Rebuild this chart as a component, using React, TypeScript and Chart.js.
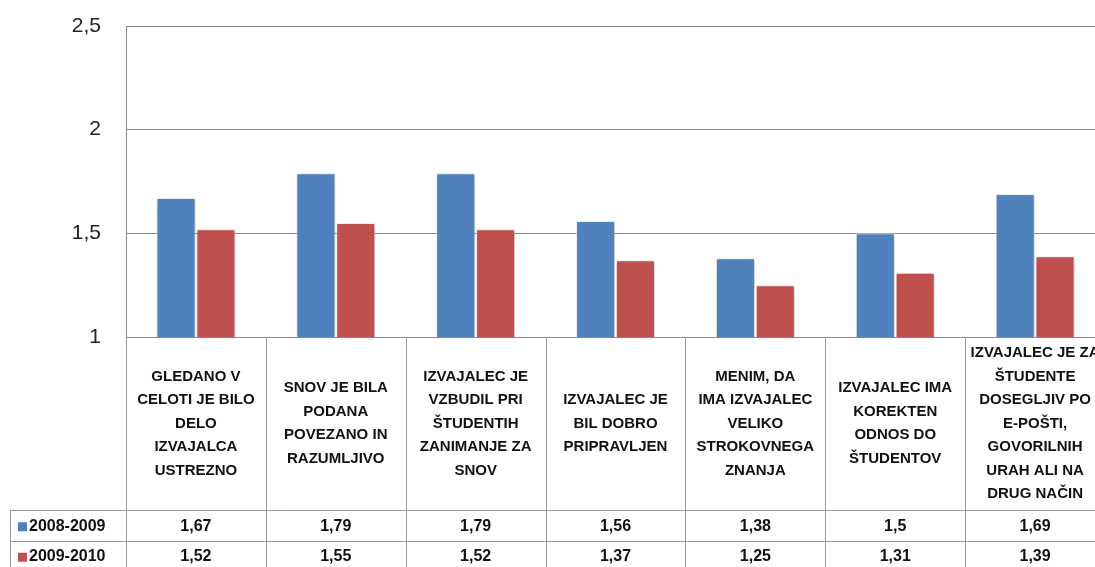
import React, { useEffect, useRef } from "react";
import { Chart, registerables } from "chart.js";

Chart.register(...registerables);

const categories: string[][] = [
  ["GLEDANO V", "CELOTI JE BILO", "DELO", "IZVAJALCA", "USTREZNO"],
  ["SNOV JE BILA", "PODANA", "POVEZANO IN", "RAZUMLJIVO"],
  ["IZVAJALEC JE", "VZBUDIL PRI", "ŠTUDENTIH", "ZANIMANJE ZA", "SNOV"],
  ["IZVAJALEC JE", "BIL DOBRO", "PRIPRAVLJEN"],
  ["MENIM, DA", "IMA IZVAJALEC", "VELIKO", "STROKOVNEGA", "ZNANJA"],
  ["IZVAJALEC IMA", "KOREKTEN", "ODNOS DO", "ŠTUDENTOV"],
  ["IZVAJALEC JE ZA", "ŠTUDENTE", "DOSEGLJIV PO", "E-POŠTI,", "GOVORILNIH", "URAH ALI NA", "DRUG NAČIN"],
];

const seriesNames = ["2008-2009", "2009-2010"];
const values2008 = [1.67, 1.79, 1.79, 1.56, 1.38, 1.5, 1.69];
const values2009 = [1.52, 1.55, 1.52, 1.37, 1.25, 1.31, 1.39];
const yTicks = [1, 1.5, 2, 2.5];

const COLORS = ["#4F81BD", "#C0504D"];
const GRID = "#8a8a8a";
const TABLE_LINE = "#9a9a9a";

const fmt = (v: number) => String(v).replace(".", ",");

const shadowPlugin = {
  id: "barShadow",
  beforeDatasetsDraw(chart: any) {
    const ctx = chart.ctx;
    ctx.save();
    ctx.shadowColor = "rgba(0,0,0,0.28)";
    ctx.shadowBlur = 4;
    ctx.shadowOffsetX = 1;
    ctx.shadowOffsetY = 1;
  },
  afterDatasetsDraw(chart: any) {
    chart.ctx.restore();
  },
};

const tablePlugin = {
  id: "dataTable",
  afterDraw(chart: any) {
    const { ctx, chartArea } = chart;
    const xs = chart.scales.x;
    const n = categories.length;
    const colW = (chartArea.right - chartArea.left) / n;
    const top = chartArea.bottom;
    const labelH = 173;
    const rowH = 30.5;
    const r1 = top + labelH;
    const r2 = r1 + rowH;
    const r3 = r2 + rowH;
    const legendLeft = 10;
    const bottom = chart.height + 5;

    ctx.save();
    ctx.strokeStyle = TABLE_LINE;
    ctx.lineWidth = 1;
    ctx.beginPath();
    for (let i = 0; i <= n; i++) {
      const x = Math.round(chartArea.left + i * colW) + 0.5;
      ctx.moveTo(x, top);
      ctx.lineTo(x, bottom);
    }
    ctx.moveTo(legendLeft + 0.5, r1);
    ctx.lineTo(legendLeft + 0.5, bottom);
    [r1, r2, r3].forEach((y) => {
      const yy = Math.round(y) + 0.5;
      ctx.moveTo(legendLeft, yy);
      ctx.lineTo(chartArea.right, yy);
    });
    ctx.stroke();

    ctx.fillStyle = "#111";
    ctx.textAlign = "center";
    ctx.textBaseline = "middle";
    ctx.font = 'bold 15px "Liberation Sans"';
    const lineH = 23.5;
    const midY = (top + r1) / 2;
    categories.forEach((lines, i) => {
      const cx = xs.getPixelForValue(i);
      const startY = midY - ((lines.length - 1) * lineH) / 2;
      lines.forEach((ln, j) => ctx.fillText(ln, cx, startY + j * lineH));
    });

    ctx.font = 'bold 16px "Liberation Sans"';
    const rows = [values2008, values2009];
    rows.forEach((vals, r) => {
      const cy = r1 + rowH * r + rowH / 2 + 1;
      ctx.fillStyle = "#111";
      vals.forEach((v, i) => {
        ctx.fillText(fmt(v), xs.getPixelForValue(i), cy);
      });
      ctx.fillStyle = COLORS[r];
      ctx.fillRect(legendLeft + 8, cy - 4, 9, 9);
      ctx.fillStyle = "#111";
      ctx.textAlign = "left";
      ctx.fillText(seriesNames[r], legendLeft + 19, cy);
      ctx.textAlign = "center";
    });
    ctx.restore();
  },
};

export default function App() {
  const ref = useRef<HTMLCanvasElement | null>(null);

  useEffect(() => {
    if (!ref.current) return;
    const chart = new Chart(ref.current, {
      type: "bar",
      data: {
        labels: categories.map((c) => c.join(" ")),
        datasets: [
          {
            label: seriesNames[0],
            data: values2008,
            backgroundColor: COLORS[0],
            borderColor: "rgba(255,255,255,0.7)",
            borderWidth: 1,
            categoryPercentage: 0.57,
            barPercentage: 0.98,
          },
          {
            label: seriesNames[1],
            data: values2009,
            backgroundColor: COLORS[1],
            borderColor: "rgba(255,255,255,0.7)",
            borderWidth: 1,
            categoryPercentage: 0.57,
            barPercentage: 0.98,
          },
        ],
      },
      options: {
        animation: false,
        responsive: false,
        maintainAspectRatio: false,
        layout: { padding: { left: 0, top: 26, right: 5, bottom: 230 } },
        plugins: {
          legend: { display: false },
          tooltip: { enabled: false },
        },
        scales: {
          x: {
            grid: { display: false, drawTicks: false },
            border: { display: false },
            ticks: { display: false },
          },
          y: {
            min: yTicks[0],
            max: yTicks[yTicks.length - 1],
            afterFit: (s: any) => {
              s.width = 126;
            },
            afterBuildTicks: (s: any) => {
              s.ticks = yTicks.map((v) => ({ value: v }));
            },
            grid: {
              color: GRID,
              drawTicks: true,
              tickLength: 25,
              tickColor: "rgba(0,0,0,0)",
              lineWidth: 1,
            },
            border: { display: true, color: GRID },
            ticks: {
              padding: 0,
              color: "#222",
              font: { family: "Liberation Sans", size: 21 },
              callback: (v: any) => fmt(Number(v)),
            },
          },
        },
      },
      plugins: [shadowPlugin, tablePlugin],
    });
    return () => chart.destroy();
  }, []);

  return (
    <div
      style={{
        position: "absolute",
        left: 0,
        top: 0,
        width: 1095,
        height: 567,
        overflow: "hidden",
        background: "#fff",
      }}
    >
      <canvas ref={ref} width={1110} height={567} style={{ width: 1110, height: 567, display: "block" }} />
    </div>
  );
}
